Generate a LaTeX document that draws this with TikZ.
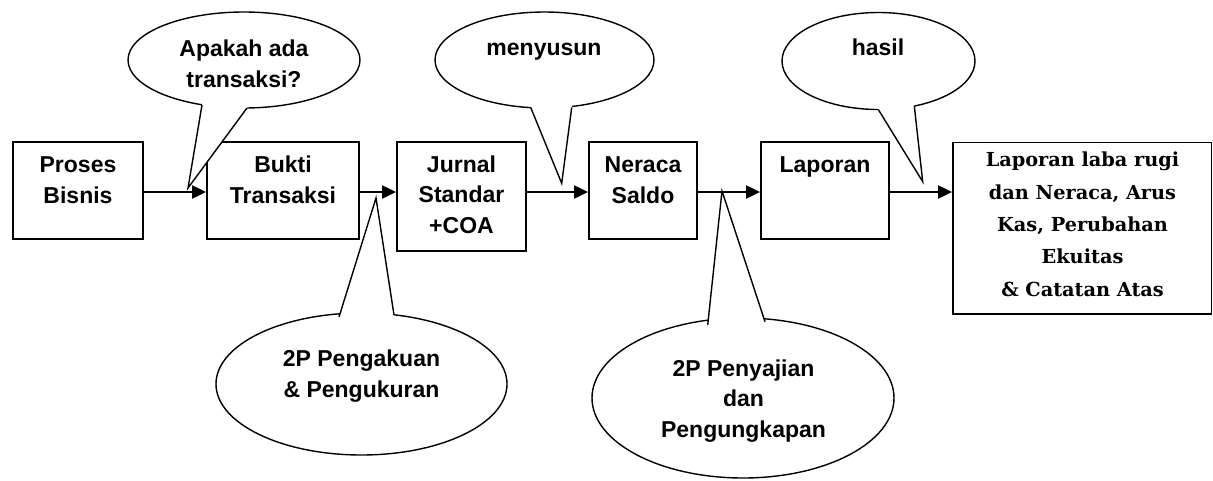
\documentclass[tikz,border=0pt]{standalone}
\usepackage{fontspec}
\setmainfont{Liberation Sans}
\newfontfamily\serifb{DejaVu Serif}
\usetikzlibrary{arrows.meta,calc,shapes.geometric}
\begin{document}
\begin{tikzpicture}[x=1pt,y=-1pt,
  box/.style={draw, line width=1.8pt, inner sep=0pt, fill=white},
  bubble/.style={draw, ellipse, line width=1.4pt, inner sep=0pt, fill=white},
  tail/.style={line width=1.4pt, line join=miter},
  arr/.style={line width=2pt, -{Triangle[length=14pt,width=13pt]}},
  lbl/.style={font=\fontsize{23}{30.5}\selectfont\bfseries, align=center, anchor=base, inner sep=0pt},
  slbl/.style={font=\serifb\fontsize{19.3}{32.3}\selectfont\bfseries, align=center, anchor=base, inner sep=0pt}
]
\useasboundingbox (0,0) rectangle (1213,480);
\coordinate (ay) at (0,192);
% boxes
\node[box, minimum width=130pt, minimum height=97pt] (b1) at (78,190.5) {};
\node[box, minimum width=152pt, minimum height=97pt] (b2) at (283,190.5) {};
\node[box, minimum width=129pt, minimum height=109pt] (b3) at (461.5,196.5) {};
\node[box, minimum width=108pt, minimum height=97pt] (b4) at (643,190.5) {};
\node[box, minimum width=128pt, minimum height=97pt] (b5) at (825,190.5) {};
\node[box, minimum width=258.5pt, minimum height=171.5pt] (b6) at (1082.25,228.25) {};
% arrows
\draw[arr] (b1.east |- ay) -- (b2.west |- ay);
\draw[arr] (b2.east |- ay) -- (b3.west |- ay);
\draw[arr] (b3.east |- ay) -- (b4.west |- ay);
\draw[arr] (b4.east |- ay) -- (b5.west |- ay);
\draw[arr] (b5.east |- ay) -- (b6.west |- ay);
% box texts (anchor = baseline of last line)
\node[lbl] (t1) at (78,203) {Proses\\Bisnis};
\node[lbl] (t2) at (283,203) {Bukti\\Transaksi};
\node[lbl] (t3) at (461.5,233) {Jurnal\\Standar\\+COA};
\node[lbl] (t4) at (643,203) {Neraca\\Saldo};
\node[lbl] (t5) at (825,172) {Laporan};
\node[slbl] (t6) at (1082.5,296) {Laporan laba rugi\\dan Neraca, Arus\\Kas, Perubahan\\Ekuitas\\\& Catatan Atas};
% bubbles
\node[bubble, minimum width=232pt, minimum height=96pt] (e1) at (244,60) {};
\node[bubble, minimum width=219pt, minimum height=96pt] (e2) at (544.5,60) {};
\node[bubble, minimum width=193pt, minimum height=97pt] (e3) at (878.5,61) {};
\node[bubble, minimum width=291pt, minimum height=142pt] (e4) at (361.5,384) {};
\node[bubble, minimum width=302pt, minimum height=160pt] (e5) at (743,398) {};
% tails
\coordinate (p1) at (188,188); \coordinate (a1) at (202,105); \coordinate (c1) at (247,108);
\coordinate (p2) at (561.7,183.3); \coordinate (a2) at (530.7,107.5); \coordinate (c2) at (571.7,107.5);
\coordinate (p3) at (922.7,181.7); \coordinate (a3) at (878.3,109.5); \coordinate (c3) at (914.3,106);
\coordinate (p4) at (376,198); \coordinate (a4) at (339,317); \coordinate (c4) at (394,315);
\coordinate (p5) at (722,191); \coordinate (a5) at (707.7,325); \coordinate (c5) at (765,321.7);
\foreach \i in {1,...,5}{
  \fill[white] (p\i) -- ($(a\i)!-0.09!(p\i)$) -- ($(c\i)!-0.09!(p\i)$) -- cycle;
  \draw[tail] (a\i) -- (p\i) -- (c\i);
}
% bubble texts
\node[lbl] (q1) at (244,87) {Apakah ada\\transaksi?};
\node[lbl] (q2) at (544,55) {menyusun};
\node[lbl] (q3) at (878,55) {hasil};
\node[lbl] (q4) at (361.5,397) {2P Pengakuan\\\& Pengukuran};
\node[lbl] (q5) at (743.5,437) {2P Penyajian\\dan\\Pengungkapan};
\end{tikzpicture}
\end{document}
